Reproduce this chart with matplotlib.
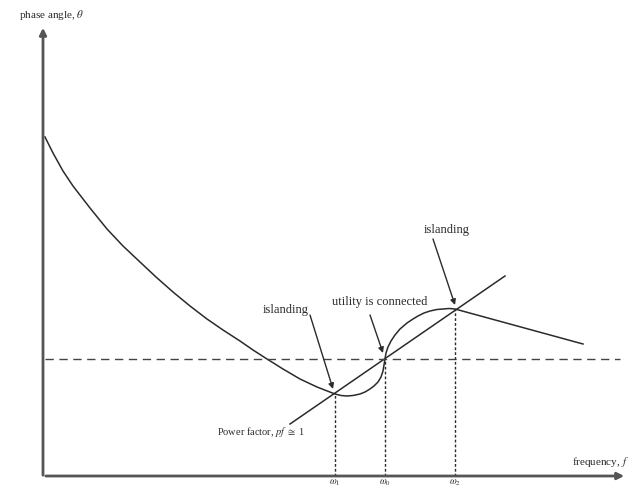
import numpy as np
import matplotlib
matplotlib.use("Agg")
import matplotlib.pyplot as plt

plt.rcParams['font.family'] = ['Liberation Serif', 'DejaVu Serif']
plt.rcParams['mathtext.fontset'] = 'stix'
plt.rcParams.update({'font.size': 9})

# phase angle curve (arbitrary units, origin at axis corner)
curve_f = [2, 10, 20, 30, 47, 64, 80, 97, 113, 130, 147, 164, 180, 197, 210, 224,
           240, 257, 274, 292, 298, 304, 310, 317, 322, 327, 331, 335, 338, 340,
           341, 342, 343, 345, 348, 352, 357, 364, 370, 375, 381, 387, 394, 400,
           406, 412, 540]
curve_theta = [339, 323, 305, 290, 268, 247, 230, 214, 199, 184, 170, 157, 146, 135,
               126, 117, 107, 97, 89, 82, 80.5, 80, 80.5, 82, 84, 87, 90, 94, 99, 105,
               111, 117, 123, 129, 135, 141, 147, 153, 157, 160, 163, 165, 166.5, 167,
               167.5, 167, 132]

# power factor line
pf_f = [247, 462]
pf_theta = [52, 200]

# zero phase (dashed)
zero_theta = 117
zero_f = [2, 577]

# characteristic frequencies
omega_f = [292, 342, 412]
omega_theta = [83, 117, 167]
omega_labels = [r'$\omega_1$', r'$\omega_0$', r'$\omega_2$']

# annotations: text, text pos, arrow tail, arrow head
notes = [
    ('islanding', (243, 167), (267, 161), (290, 87)),
    ('utility is connected', (337, 175), (327, 161), (340, 123)),
    ('islanding', (404, 247), (390, 237), (412, 171)),
]

col = '#2b2b2b'
fig = plt.figure(figsize=(6.37, 4.89), dpi=100)
ax = fig.add_axes([0, 0, 1, 1])
ax.set_xlim(-43, 594)
ax.set_ylim(-12, 477)
ax.axis('off')

# axes with arrows
ax.annotate('', xy=(584, 0), xytext=(0, 0),
            arrowprops=dict(arrowstyle='-|>', color='#555555', lw=2, mutation_scale=10))
ax.annotate('', xy=(0, 451), xytext=(0, -2),
            arrowprops=dict(arrowstyle='-|>', color='#555555', lw=2, mutation_scale=10))

ax.plot(curve_f, curve_theta, color=col, lw=1.1)
ax.plot(pf_f, pf_theta, color=col, lw=1.1)
ax.plot(zero_f, [zero_theta, zero_theta], color='#444444', lw=1.0, dashes=(6, 4))

for f, th, lab in zip(omega_f, omega_theta, omega_labels):
    ax.plot([f, f], [0, th], color=col, lw=1.0, dashes=(2, 1.5))
    ax.text(f, -6, lab, ha='center', va='center', fontsize=7, color=col)

for txt, tpos, tail, head in notes:
    ax.text(tpos[0], tpos[1], txt, ha='center', va='center', fontsize=9, color=col)
    ax.annotate('', xy=head, xytext=tail,
                arrowprops=dict(arrowstyle='-|>', color=col, lw=1.0, mutation_scale=8,
                                shrinkA=0, shrinkB=0))

ax.text(218, 45, r'Power factor, $pf$ $\cong$ 1', ha='center', va='center', fontsize=7.5, color=col)
ax.text(9, 462, r'phase angle, $\theta$', ha='center', va='center', fontsize=8, color=col)
ax.text(557, 15, r'frequency, $f$', ha='center', va='center', fontsize=8, color=col)

fig.savefig('out.png', dpi=100)
